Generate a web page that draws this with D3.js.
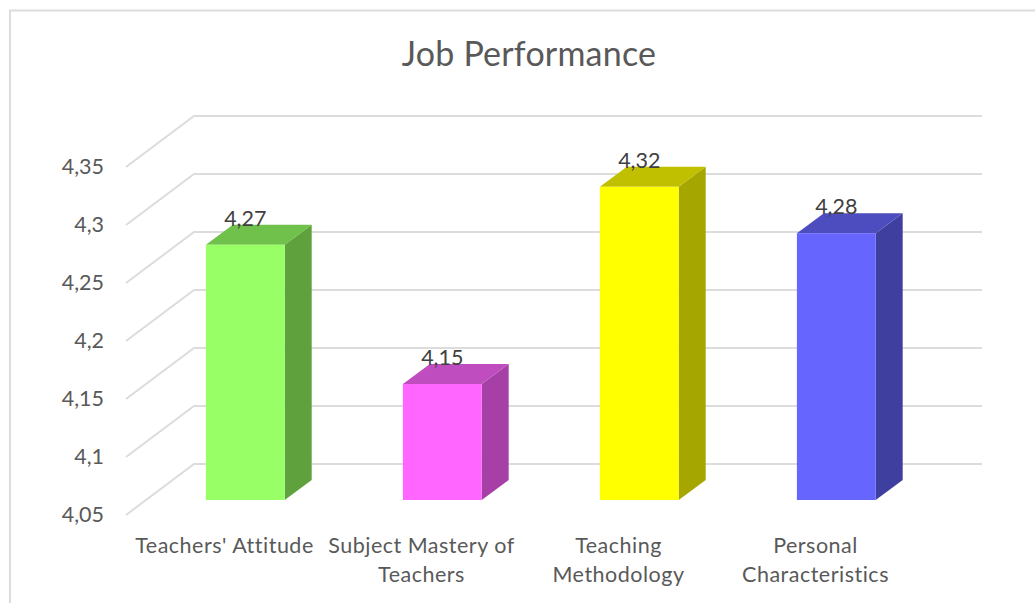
<!DOCTYPE html>
<html>
<head>
<meta charset="utf-8">
<script src="https://cdn.jsdelivr.net/npm/d3@7"></script>
<style>
  html, body { margin: 0; padding: 0; background: #fff; }
  svg { display: block; font-family: Lato, "Open Sans", sans-serif; }
</style>
</head>
<body>
<div id="chart"></div>
<script>
const categories = ["Teachers' Attitude", "Subject Mastery of Teachers", "Teaching Methodology", "Personal Characteristics"];
const categoryLines = [["Teachers' Attitude"], ["Subject Mastery of", "Teachers"], ["Teaching", "Methodology"], ["Personal", "Characteristics"]];
const values = [4.27, 4.15, 4.32, 4.28];
const ticks = [4.05, 4.1, 4.15, 4.2, 4.25, 4.3, 4.35];
const frontColors = ["#99ff66", "#ff66ff", "#ffff00", "#6666ff"];
const sideColors = ["#5fa23d", "#a63fa6", "#a6a600", "#3f3fa0"];
const topColors = ["#70c04c", "#bf4dbf", "#c0c000", "#4d4dbf"];

const w = 1035;
const h = 603;

// front edge of the floor, and how far the 3d depth pushes things
const plotLeft = 126;
const plotRight = 914;
const plotBottom = 515;
const plotTop = 167;
const depth = { x: 68, y: -51 };
const barOffset = { x: 20.8, y: -15 };
const barDepth = { x: 27, y: -20 };

const fmt = (v) => String(v).replace(".", ",");

const svg = d3
  .select("#chart")
  .append("svg")
  .attr("width", w)
  .attr("height", h);

// Define scales
const xScale = d3.scaleBand().domain(categories).range([plotLeft, plotRight]).paddingInner(0.6).paddingOuter(0.3);
const yScale = d3.scaleLinear().domain([4.05, 4.35]).range([plotBottom, plotTop]);

// Chart frame, open on the right
svg
  .append("path")
  .attr("d", `M10,${h}V10.5H${w}`)
  .attr("fill", "none")
  .attr("stroke", "#dcdcdc")
  .attr("stroke-width", 2);

// Title
svg
  .append("text")
  .attr("x", 529)
  .attr("y", 66)
  .attr("text-anchor", "middle")
  .attr("fill", "#595959")
  .style("font-size", "34px")
  .style("letter-spacing", "0.2px")
  .text("Job Performance");

// Gridlines: side wall then back wall
const grid = svg.append("g").attr("fill", "none").attr("stroke", "#dcdcdc").attr("stroke-width", 2);
ticks.forEach((t) => {
  grid
    .append("path")
    .attr("d", `M${plotLeft},${yScale(t)}L${plotLeft + depth.x},${yScale(t) + depth.y}H${plotRight + depth.x}`);
});

// Y axis
const yAxis = d3.axisLeft(yScale).tickValues(ticks).tickFormat(fmt).tickSize(0).tickPadding(22);
svg
  .append("g")
  .attr("class", "yaxis")
  .attr("transform", `translate(${plotLeft}, 0)`)
  .call(yAxis)
  .call((g) => g.select(".domain").remove())
  .call((g) => g.selectAll("text").attr("fill", "#595959").style("font-size", "21.5px").style("font-family", "Lato, 'Open Sans', sans-serif"));

// Bars
const barBase = yScale(4.05) + barOffset.y;
const barY = (v) => yScale(v) + barOffset.y;
const barX = (c) => xScale(c) + barOffset.x;
const bw = xScale.bandwidth();

categories.forEach((c, i) => {
  const x0 = barX(c);
  const x1 = x0 + bw;
  const yTop = barY(values[i]);
  const g = svg.append("g").attr("class", "bar");

  g.append("path")
    .attr("d", `M${x1},${yTop}L${x1 + barDepth.x},${yTop + barDepth.y}V${barBase + barDepth.y}L${x1},${barBase}Z`)
    .attr("fill", sideColors[i]);

  g.append("path")
    .attr("d", `M${x0},${yTop}L${x0 + barDepth.x},${yTop + barDepth.y}H${x1 + barDepth.x}L${x1},${yTop}Z`)
    .attr("fill", topColors[i]);

  g.append("rect")
    .attr("x", x0)
    .attr("y", yTop)
    .attr("width", bw)
    .attr("height", barBase - yTop)
    .attr("fill", frontColors[i]);

  // Data label
  svg
    .append("text")
    .attr("x", x0 + bw / 2)
    .attr("y", yTop - 19)
    .attr("text-anchor", "middle")
    .attr("fill", "#404040")
    .style("font-size", "21.5px")
    .text(fmt(values[i]));
});

// Category labels
categories.forEach((c, i) => {
  const label = svg
    .append("text")
    .attr("class", "cat")
    .attr("text-anchor", "middle")
    .attr("fill", "#595959")
    .style("font-size", "21.5px")
    .style("letter-spacing", "0.5px");
  categoryLines[i].forEach((line, j) => {
    label
      .append("tspan")
      .attr("x", xScale(c) + bw / 2)
      .attr("y", 552.5 + j * 29)
      .text(line);
  });
});
</script>
</body>
</html>
